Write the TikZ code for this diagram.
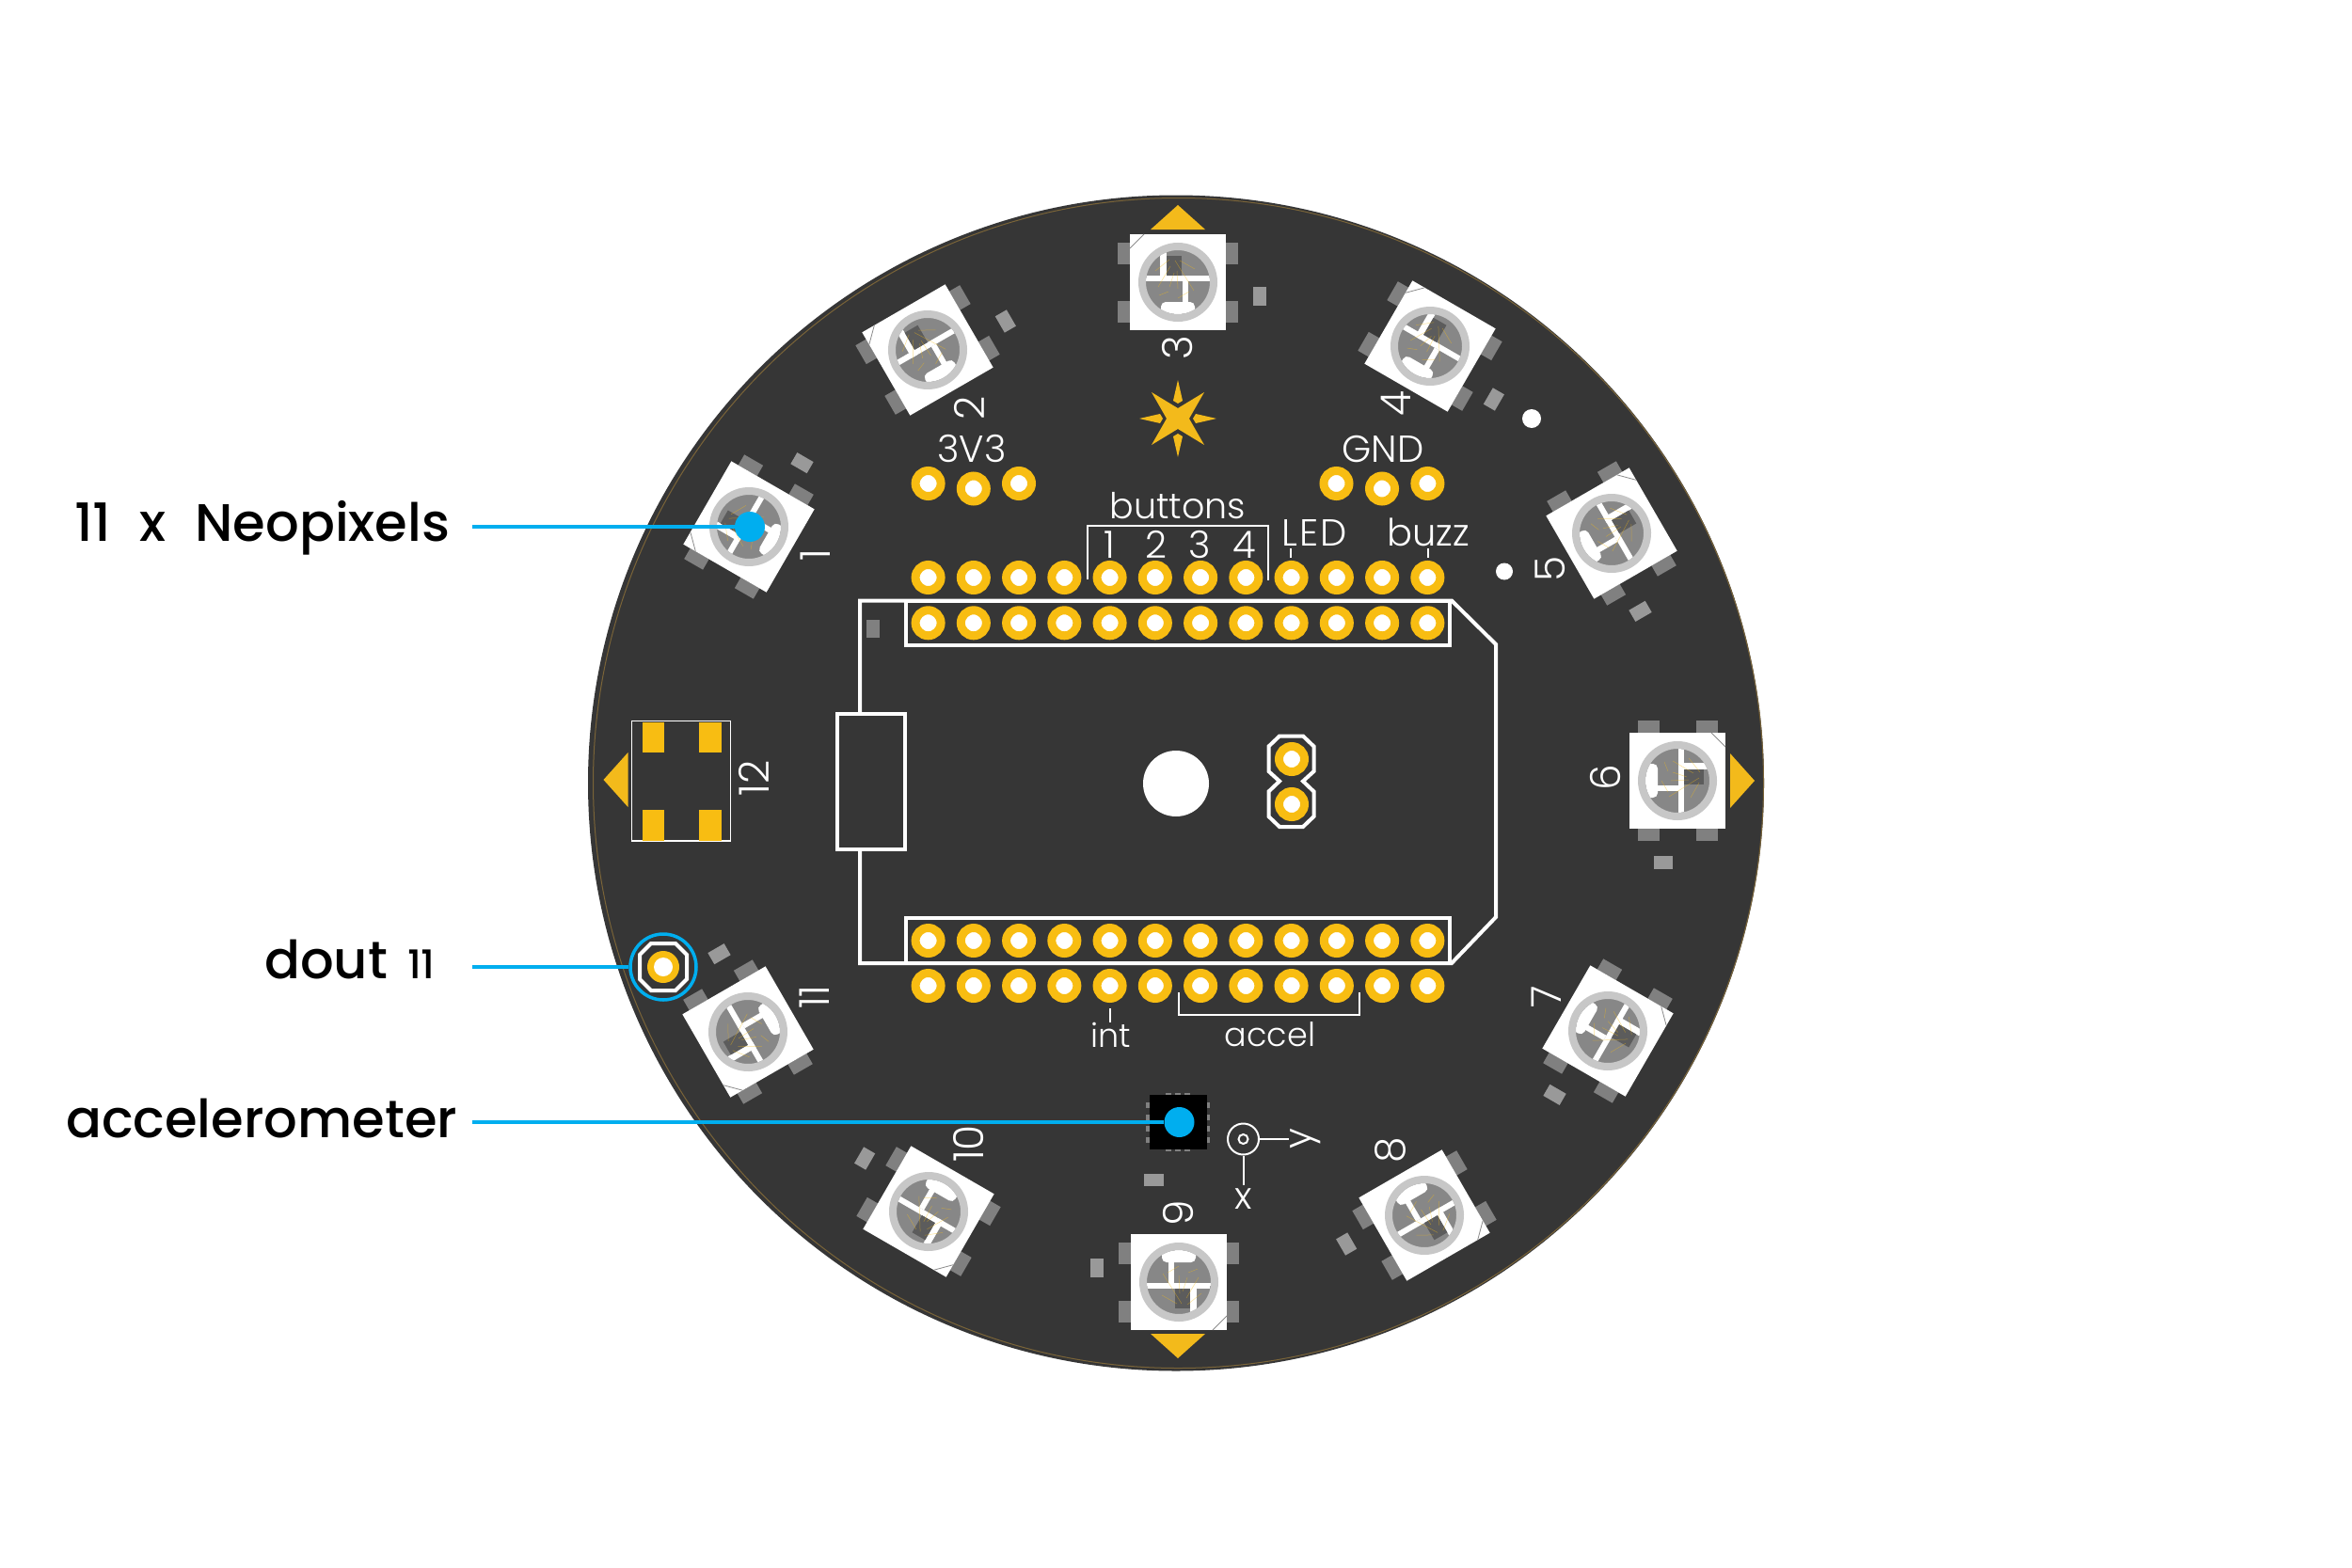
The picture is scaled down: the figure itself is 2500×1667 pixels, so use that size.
\documentclass[tikz,border=0pt]{standalone}
\usepackage{fontspec}
\setmainfont{Poppins Light}
\newfontfamily\calloutfont{Poppins Medium}
\usepackage{xcolor}
\definecolor{boarddark}{HTML}{363636}
\definecolor{padgold}{HTML}{F8BD12}
\definecolor{arrowgold}{HTML}{F3BA1B}
\definecolor{calloutblue}{HTML}{00AEEF}
\definecolor{edgetan}{HTML}{7A6438}
\tikzset{
    silk/.style={draw=white, line width=4pt},
    silkthin/.style={draw=white, line width=2pt},
    pad/.style={draw=padgold, fill=white, line width=9pt},
    silklabel/.style={text=white, font=\fontsize{35}{35}\selectfont, inner sep=0pt},
    silkbig/.style={text=white, font=\fontsize{40}{40}\selectfont, inner sep=0pt},
    ledlabel/.style={text=white, font=\fontsize{44}{44}\selectfont, inner sep=0pt, rotate=90},
    calloutlabel/.style={text=black, font=\calloutfont\fontsize{56}{56}\selectfont, inner sep=0pt, anchor=base west},
    callout/.style={draw=calloutblue, line width=3.5pt},
    bluedot/.style={circle, fill=calloutblue, minimum size=32pt, inner sep=0pt},
    ledpad/.style={fill=black!50},
    sidepad/.style={fill=black!40},
}
\begin{document}
\begin{tikzpicture}[x=1pt, y=-1pt]
    \useasboundingbox (0,0) rectangle (2500,1667);
    \fill[white] (0,0) rectangle (2500,1667);

    % Board
    \fill[boarddark] (1250,832.5) circle (625);
    \draw[edgetan, line width=1pt] (1252.5,832.5) circle (622);
    \fill[white] (1250,833) circle (35);

    % Neopixels
    \foreach \n/\px/\py/\ang/\lx/\ly in {
        1/796/560/-60/867/590, 2/986/372/-30/1030/434, 3/1252/300/0/1252/370,
        4/1520/368/30/1484/429, 5/1713/567/60/1648/605, 6/1783/830/90/1706/827,
        7/1709/1096/120/1644/1060, 8/1514/1292/150/1478/1223, 9/1253/1363/180/1252/1290,
        10/987/1288/210/1030/1216, 11/795/1097/240/866/1060} {
        \begin{scope}[shift={(\px,\py)}, rotate=-\ang]
            % side pads
            \foreach \sx in {-1,1} \foreach \sy in {-1,1}
                \fill[ledpad] ({\sx*51},{\sy*31-11.5}) rectangle ({\sx*64},{\sy*31+11.5});
            \fill[sidepad] (80,5) rectangle (94,25);
            % package
            \fill[white] (-51,-51) rectangle (51,51);
            \draw[black!45, line width=0.8pt] (-51,-36) -- (-36,-51);
            % lens
            \fill[black!47] (0,0) circle (35);
            \begin{scope}
                \clip (0,0) circle (34);
                \fill[white] (-19,-34) rectangle (-12,-1);
                \fill[white] (-34,-7) rectangle (34,-1);
                \fill[white] (5,-1) rectangle (11,26);
                \fill[white, rounded corners=5pt] (-18,21) rectangle (18,40);
                \fill[black!64] (-12,-28) rectangle (4,-7);
                \foreach \ax/\ay/\bx/\by in {-24/-12/-9/-24, -21/5/-8/-17, -9/5/-4/-10,
                    0/7/-1/-12, -20/14/-10/10, 0/17/12/10, 17/9/-3/-23, 18/-14/2/-23}
                    \draw[padgold, opacity=0.45, line width=0.5pt] (\ax,\ay) -- (\bx,\by);
            \end{scope}
            \draw[black!22, line width=8pt] (0,0) circle (38);
        \end{scope}
        \node[ledlabel] (led\n) at (\lx,\ly) {\n};
    }

    % Orientation arrows
    \fill[arrowgold] (1223,244) -- (1281,244) -- (1252,218) -- cycle;
    \fill[arrowgold] (1223,1418) -- (1281,1418) -- (1252,1444) -- cycle;
    \fill[arrowgold] (1839,801) -- (1839,859) -- (1865,830) -- cycle;
    \fill[arrowgold] (667.5,800) -- (667.5,858) -- (641.5,829) -- cycle;

    % Star
    \begin{scope}[shift={(1252,445)}]
        \fill[arrowgold] (-28,-28) -- (0,-11) -- (28,-28) -- (12,0) -- (28,28) -- (0,11) -- (-28,28) -- (-12,0) -- cycle;
        \foreach \a in {0,90,180,270}
            \fill[arrowgold, rotate=\a] (0,-41) -- (5,-19) -- (0,-16) -- (-5,-19) -- cycle;
    \end{scope}

    % Loose test points
    \fill[white] (1628,445) circle (10);
    \fill[white] (1599,607.5) circle (9);

    % Component 12
    \draw[white, line width=1.5pt] (671.5,766.5) rectangle (776.5,894);
    \foreach \sx/\sy in {682.5/767.5, 743/767.5, 682.5/861, 743/861}
        \fill[padgold] (\sx,\sy) rectangle (\sx+23.5,\sy+32.5);
    \node[ledlabel] (led12) at (801,827) {12};

    % Feather outline
    \draw[silk] (914,759) -- (914,638.5) -- (1543,638.5) -- (1590,685) -- (1590,975) -- (1543,1024) -- (914,1024) -- (914,903);
    \draw[silk] (890,759) rectangle (962,903);
    \draw[silk] (962.5,638.5) rectangle (1541,686);
    \draw[silk] (962.5,976) rectangle (1541,1024);
    \fill[black!50] (921,659) rectangle (935,678);

    % Header pads
    \foreach \x in {0,1,2,3,4,5,6,7,8,9,10,11} {
        \draw[pad] (986.6+\x*48.25,614) circle (13.5);
        \draw[pad] (986.6+\x*48.25,662.3) circle (13.5);
        \draw[pad] (986.6+\x*48.25,1000) circle (13.5);
        \draw[pad] (986.6+\x*48.25,1048) circle (13.5);
    }
    \foreach \x/\y in {986.6/514, 1034.8/519.5, 1083/514, 1420.5/514, 1469/519.5, 1517.4/514}
        \draw[pad] (\x,\y) circle (13.5);

    % Jumper
    \draw[silk] (1360,782.5) -- (1385,782.5) -- (1396.5,793.5) -- (1396.5,820) -- (1385,830.5) -- (1396.5,841.5) -- (1396.5,868) -- (1385,879) -- (1360,879) -- (1348.5,868) -- (1348.5,841.5) -- (1360,830.5) -- (1348.5,820) -- (1348.5,793.5) -- cycle;
    \draw[pad] (1373,807) circle (13.5);
    \draw[pad] (1373,855) circle (13.5);

    % Silk labels
    \node[silkbig] (vcc) at (1033,477) {3V3};
    \node[silkbig] (gnd) at (1470,477) {GND};
    \node[silklabel, font=\fontsize{38}{38}\selectfont] (buttons) at (1252,538) {buttons};
    \node[silkbig] (led) at (1397,566) {L\kern2pt E\kern2pt D};
    \node[silkbig] (buzz) at (1518,566) {buzz};
    \foreach \x/\t in {1179/1, 1229/2, 1275/3, 1323/4}
        \node[silkbig] (btn\t) at (\x,579) {\t};
    \node[silklabel] (int) at (1181,1100) {int};
    \node[silklabel] (accel) at (1350,1100) {accel};
    \draw[silkthin] (1155.5,616) -- (1155.5,559) -- (1347.5,559) -- (1347.5,617);
    \draw[silkthin] (1372,583) -- (1372,593);
    \draw[silkthin] (1517.5,583) -- (1517.5,593);
    \draw[silkthin] (1180,1072) -- (1180,1087);
    \draw[silkthin] (1252.5,1055) -- (1252.5,1079) -- (1444.5,1079) -- (1444.5,1055);

    % Accelerometer
    \fill[black] (1221.5,1164) rectangle (1282.5,1222);
    \foreach \x in {1239,1249,1259} {
        \fill[black!50] (\x,1162) rectangle (\x+6,1164);
        \fill[black!50] (\x,1222) rectangle (\x+6,1224);
    }
    \foreach \y in {1172,1185,1197,1209} {
        \fill[black!50] (1218,\y) rectangle (1221.5,\y+6);
        \fill[black!50] (1282.5,\y) rectangle (1286,\y+6);
    }
    \fill[black!40] (1216,1248) rectangle (1236.5,1261);

    % Axes
    \node[circle, silkthin, minimum size=33pt, inner sep=0pt] (axis) at (1321.5,1211) {};
    \draw[silkthin] (1321.5,1211) circle (5);
    \coordinate (yend) at (1370,1211);
    \coordinate (xend) at (1321.5,1260);
    \draw[silkthin] (axis) -- (yend);
    \draw[silkthin] (axis) -- (xend);
    \node[silkbig, rotate=90] (yaxis) at (1388,1211) {y};
    \node[silkbig] (xaxis) at (1321.5,1275) {x};

    % dout pad
    \draw[silk] (692,1003) -- (718,1003) -- (730,1015) -- (730,1041) -- (718,1053) -- (692,1053) -- (680,1041) -- (680,1015) -- cycle;
    \fill[padgold] (705,1028) circle (17);
    \fill[white] (705,1028) circle (10);

    % Callouts
    \node[calloutlabel] (neolabel) at (79,575) {11\hspace{16pt} x\hspace{16pt} Neopixels};
    \node[calloutlabel] (doutlabel) at (281,1040) {dout};
    \node[calloutlabel, font=\calloutfont\fontsize{42}{42}\selectfont] (doutnum) at (433,1040) {11};
    \node[calloutlabel] (accellabel) at (70,1209) {accelerometer};
    \coordinate (neostart) at (502,560);
    \coordinate (doutstart) at (502,1028);
    \coordinate (accelstart) at (502,1193);
    \node[bluedot] (neodot) at (797,560) {};
    \node[bluedot] (acceldot) at (1253.5,1193) {};
    \node[circle, callout, minimum size=70pt, inner sep=0pt] (doutring) at (705,1028) {};
    \draw[callout] (neostart) -- (neodot);
    \draw[callout] (doutstart) -- (doutring);
    \draw[callout] (accelstart) -- (acceldot);
\end{tikzpicture}
\end{document}
